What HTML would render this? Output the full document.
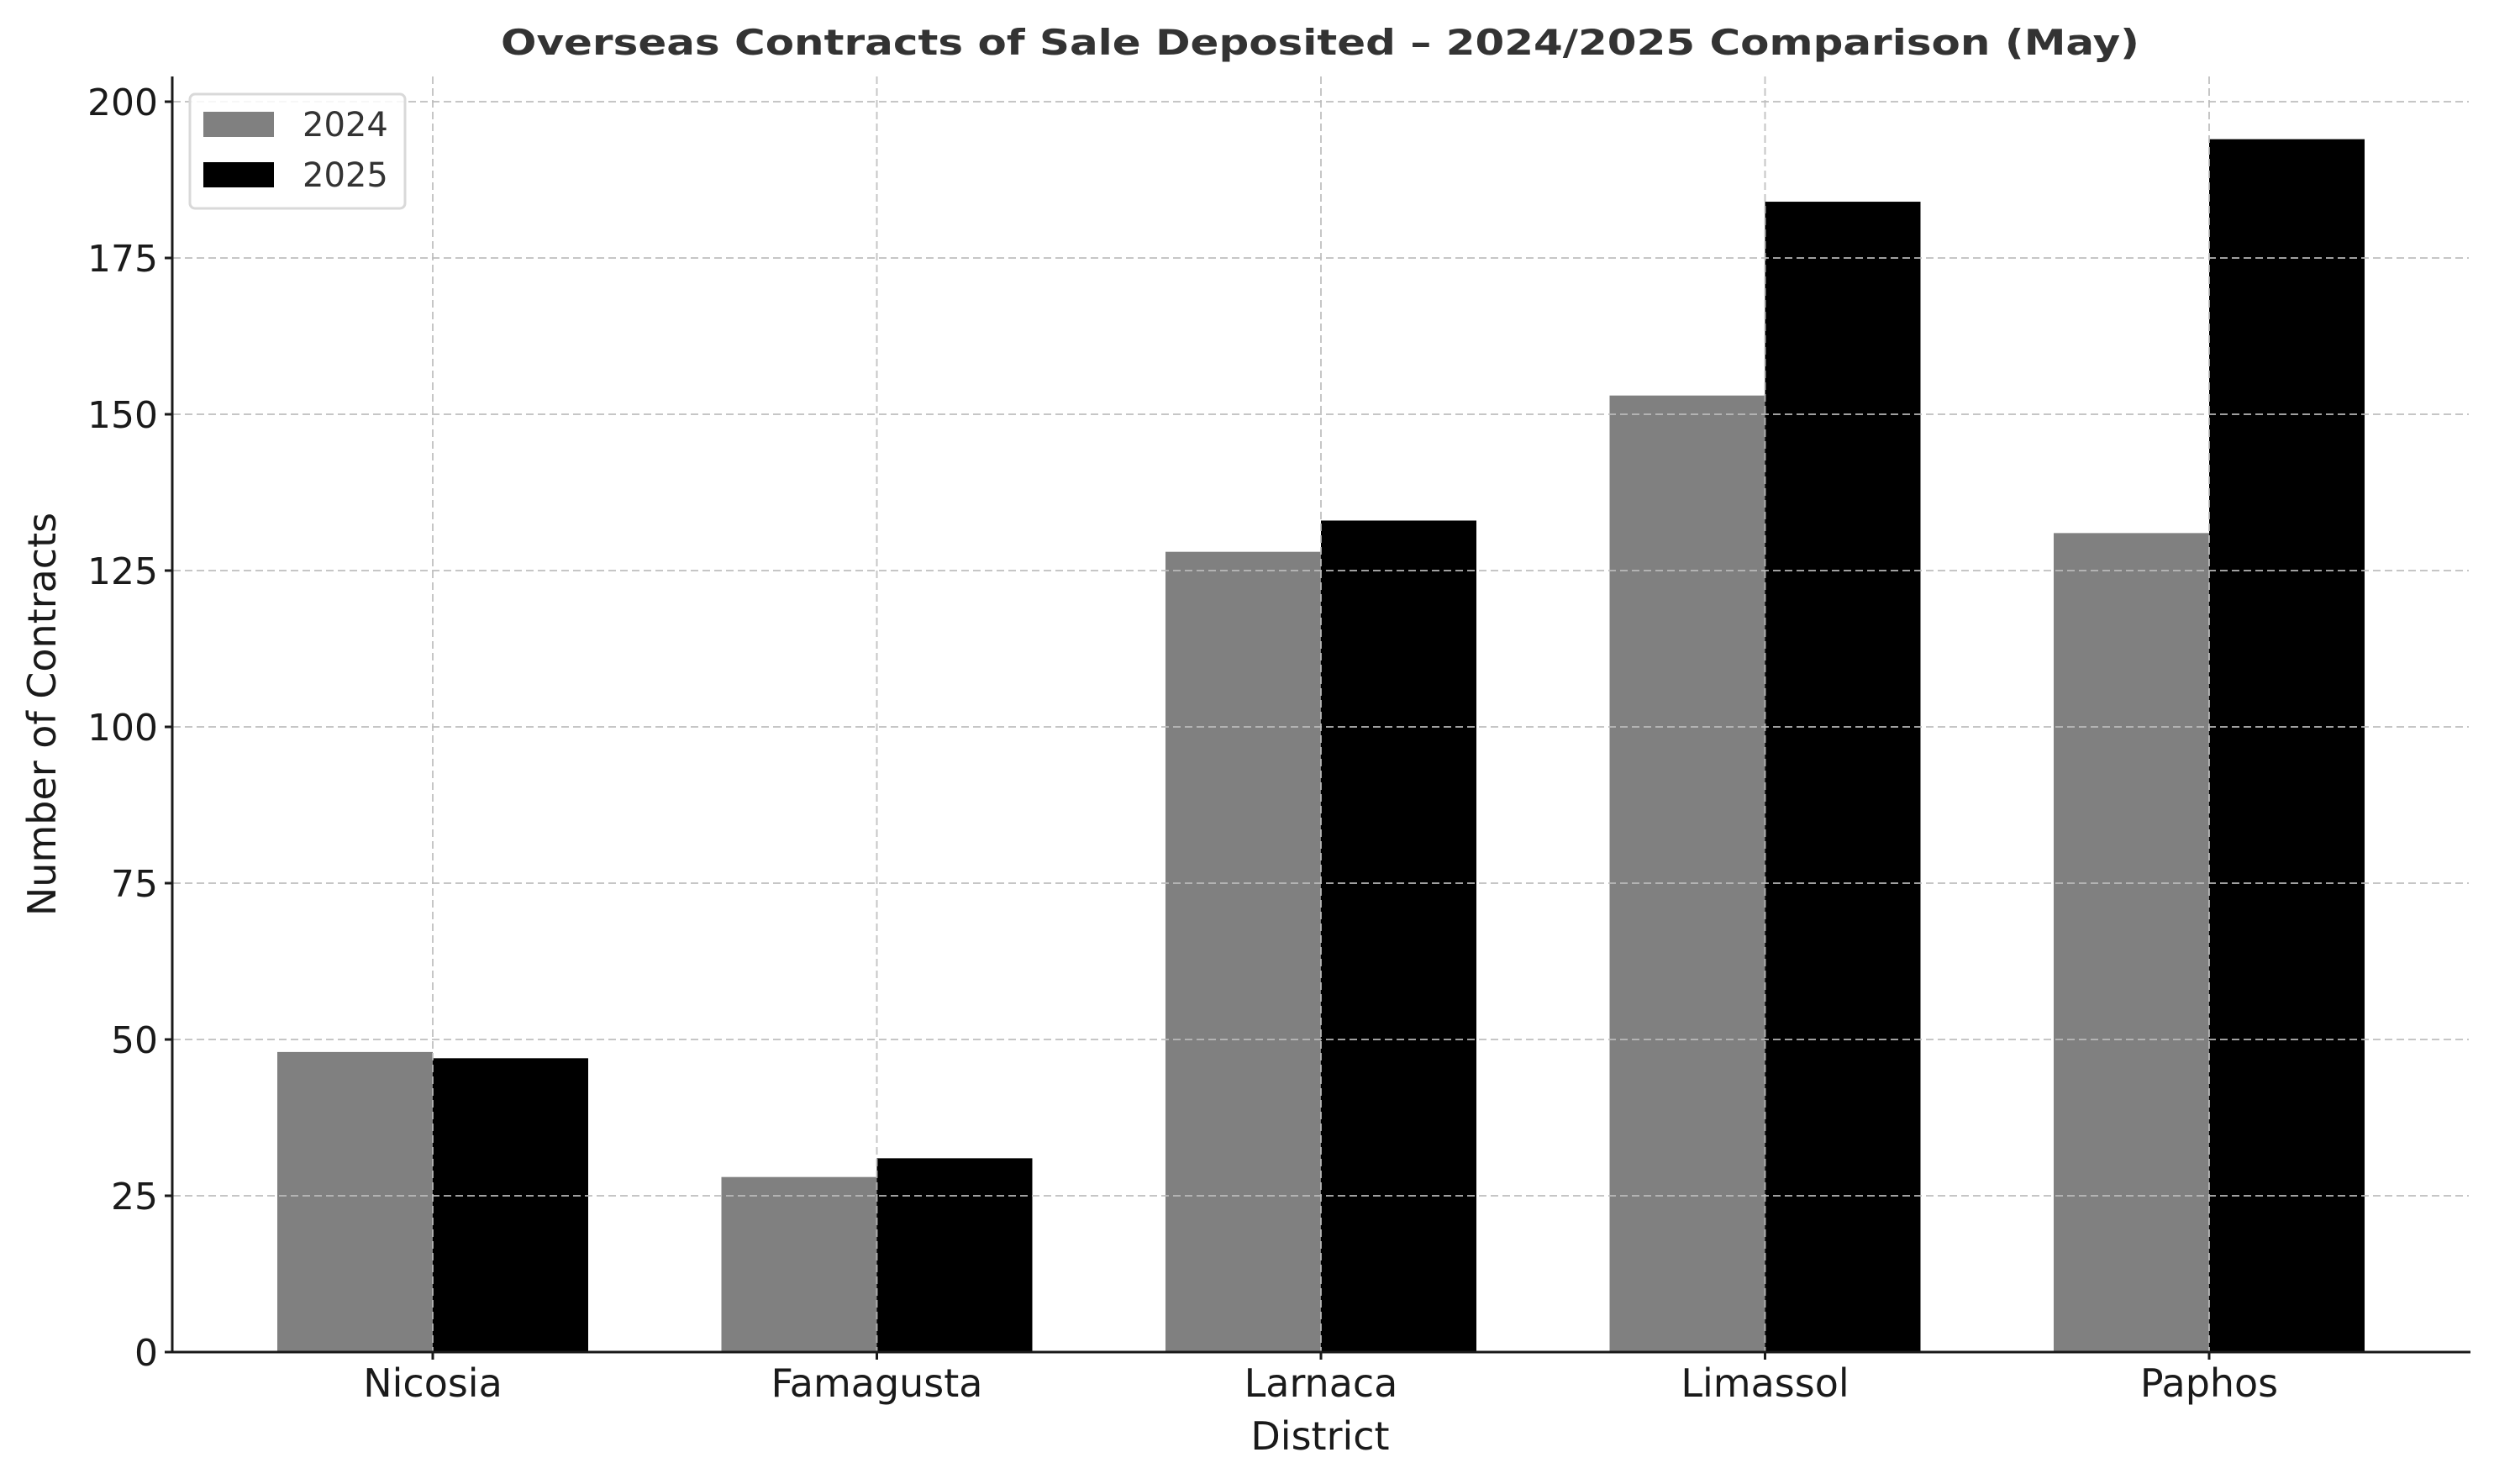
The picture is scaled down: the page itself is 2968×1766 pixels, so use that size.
<!DOCTYPE html>
<html><head><meta charset="utf-8"><style>
html,body{margin:0;padding:0;background:#fff}
svg{display:block;font-family:"DejaVu Sans","Liberation Sans",sans-serif}
</style></head><body>
<svg id="chart" width="2968" height="1766" viewBox="0 0 2968 1766">
<text x="1571" y="65" text-anchor="middle" font-size="42" font-weight="bold" fill="#333" textLength="1950" lengthAdjust="spacingAndGlyphs">Overseas Contracts of Sale Deposited – 2024/2025 Comparison (May)</text>
<g id="grid"></g>
<g id="bars"></g>
<g id="gridtop"></g>
<line x1="205" y1="91" x2="205" y2="1610" stroke="#1a1a1a" stroke-width="3"/>
<line x1="204" y1="1609" x2="2940" y2="1609" stroke="#1a1a1a" stroke-width="3"/>
<g id="yticks"></g>
<g id="xticks"></g>
<text x="1571" y="1725" text-anchor="middle" font-size="46" fill="#1a1a1a">District</text>
<text transform="translate(66,850) rotate(-90)" text-anchor="middle" font-size="46" fill="#1a1a1a">Number of Contracts</text>
<g>
<rect x="226" y="112" width="256" height="136" rx="6" fill="#fff" fill-opacity="0.85" stroke="#d9d9d9" stroke-width="3"/>
<rect x="242" y="133" width="84" height="30" fill="#808080"/>
<text x="360" y="162" font-size="40" fill="#333">2024</text>
<rect x="242" y="193" width="84" height="30" fill="#000"/>
<text x="360" y="222" font-size="40" fill="#333">2025</text>
</g>
</svg>
<script>
const categories = ["Nicosia","Famagusta","Larnaca","Limassol","Paphos"];
const values2024 = [48,28,128,153,131];
const values2025 = [47,31,133,184,194];
const yTickLabels = [0,25,50,75,100,125,150,175,200];

const NS = "http://www.w3.org/2000/svg";
const y0 = 1609, pxPerUnit = (1609 - 121) / 200;
const x0 = 515, step = 528.5, barW = 185;
function yScale(v){ return y0 - v * pxPerUnit; }
function xScale(i){ return x0 + i * step; }
function mk(tag, attrs, parent){ const e = document.createElementNS(NS, tag); for (const k in attrs) e.setAttribute(k, attrs[k]); parent.appendChild(e); return e; }

const grid = document.getElementById("grid");
const gridTop = document.getElementById("gridtop");
const bars = document.getElementById("bars");
const yt = document.getElementById("yticks");
const xt = document.getElementById("xticks");

yTickLabels.forEach(v => {
  const y = yScale(v);
  const g = mk("line", {x1:206, y1:y, x2:2938, y2:y, stroke:"#bdbdbd", "stroke-width":2, "stroke-dasharray":"9,5", opacity:0.85}, gridTop);
  
  
  const t = mk("line", {x1:196, y1:y, x2:205, y2:y, stroke:"#1a1a1a", "stroke-width":3}, yt);
  
  
  const l = mk("text", {x:188, y:y + 16, "text-anchor":"end", "font-size":44, fill:"#1a1a1a"}, yt);
  l.textContent = v;
  
  
});

categories.forEach((c, i) => {
  const cx = xScale(i);
  const b1 = mk("rect", {x:cx - barW, y:yScale(values2024[i]), width:barW, height:y0 - yScale(values2024[i]), fill:"#808080"}, bars);
  
  
  const b2 = mk("rect", {x:cx, y:yScale(values2025[i]), width:barW, height:y0 - yScale(values2025[i]), fill:"#000"}, bars);
  
  
  const g = mk("line", {x1:cx, y1:91, x2:cx, y2:1608, stroke:"#bdbdbd", "stroke-width":2, "stroke-dasharray":"9,5", opacity:0.85}, gridTop);
  
  
  const t = mk("line", {x1:cx, y1:1609, x2:cx, y2:1618, stroke:"#1a1a1a", "stroke-width":3}, xt);
  
  
  const l = mk("text", {x:cx, y:1662, "text-anchor":"middle", "font-size":46, fill:"#1a1a1a"}, xt);
  l.textContent = c;
  
  
});
</script>
</body></html>
